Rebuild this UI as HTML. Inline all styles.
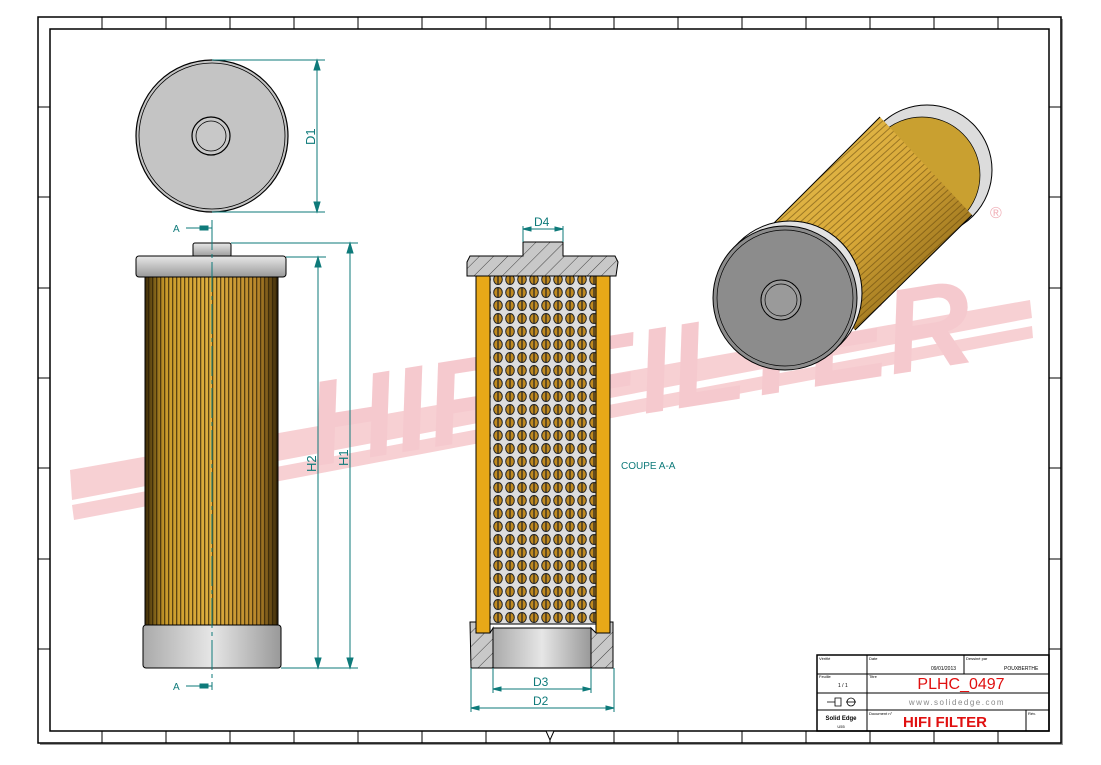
<!DOCTYPE html>
<html><head><meta charset="utf-8"><style>
body{margin:0;width:1101px;height:760px;background:#fff;overflow:hidden;font-family:"Liberation Sans",sans-serif}
</style></head><body>
<svg width="1101" height="760" viewBox="0 0 1101 760" xmlns="http://www.w3.org/2000/svg" font-family="Liberation Sans, sans-serif">
<defs>
<linearGradient id="pl" x1="0" x2="1" y1="0" y2="0">
<stop offset="0" stop-color="#3a2a08"/><stop offset=".15" stop-color="#c99a2a"/><stop offset=".5" stop-color="#e0b040"/><stop offset=".85" stop-color="#b8862a"/><stop offset="1" stop-color="#3a2a08"/></linearGradient>
<pattern id="pleat" width="4" height="10" patternUnits="userSpaceOnUse"><rect width="4" height="10" fill="none"/><rect x="0" width="1.3" height="10" fill="#2a1c05" opacity=".7"/></pattern>
<linearGradient id="cap" x1="0" x2="0" y1="0" y2="1"><stop offset="0" stop-color="#e8e8e8"/><stop offset="1" stop-color="#999"/></linearGradient>
<linearGradient id="capv" x1="0" x2="1"><stop offset="0" stop-color="#aaa"/><stop offset=".5" stop-color="#e6e6e6"/><stop offset="1" stop-color="#999"/></linearGradient>
<pattern id="mesh" width="12" height="13" patternUnits="userSpaceOnUse"><rect width="12" height="13" fill="#ddd"/><ellipse cx="6" cy="6.5" rx="4.3" ry="5" fill="#c08a20" stroke="#222" stroke-width="1"/><line x1="6" y1="2" x2="6" y2="11" stroke="#222" stroke-width="1.2"/></pattern>
<pattern id="hatch" width="10" height="10" patternUnits="userSpaceOnUse" patternTransform="rotate(45)"><rect width="10" height="10" fill="#c8c8c8"/><line x1="0" y1="0" x2="0" y2="10" stroke="#444" stroke-width="1"/></pattern>
<linearGradient id="body3" x1="0" y1="0" x2="1" y2="1"><stop offset="0" stop-color="#e8c050"/><stop offset=".5" stop-color="#d8a838"/><stop offset="1" stop-color="#6a4a08"/></linearGradient>
<pattern id="pl3" width="5" height="5" patternUnits="userSpaceOnUse" patternTransform="rotate(-42)"><rect width="5" height="1" fill="#5a3e08" opacity=".5"/></pattern>
</defs>
<!-- border -->
<rect x="40" y="19" width="1023" height="726" fill="#999"/>
<rect x="38" y="17" width="1023" height="726" fill="#fff" stroke="#000" stroke-width="1.5"/>
<rect x="50" y="29" width="999" height="702" fill="#fff" stroke="#000" stroke-width="1.5"/>
<g stroke="#000" stroke-width="1">
<line x1="102" y1="17" x2="102" y2="29"/><line x1="166" y1="17" x2="166" y2="29"/><line x1="230" y1="17" x2="230" y2="29"/><line x1="294" y1="17" x2="294" y2="29"/><line x1="358" y1="17" x2="358" y2="29"/><line x1="422" y1="17" x2="422" y2="29"/><line x1="486" y1="17" x2="486" y2="29"/><line x1="550" y1="17" x2="550" y2="29"/><line x1="614" y1="17" x2="614" y2="29"/><line x1="678" y1="17" x2="678" y2="29"/><line x1="742" y1="17" x2="742" y2="29"/><line x1="806" y1="17" x2="806" y2="29"/><line x1="870" y1="17" x2="870" y2="29"/><line x1="934" y1="17" x2="934" y2="29"/><line x1="998" y1="17" x2="998" y2="29"/>
<line x1="102" y1="731" x2="102" y2="743"/><line x1="166" y1="731" x2="166" y2="743"/><line x1="230" y1="731" x2="230" y2="743"/><line x1="294" y1="731" x2="294" y2="743"/><line x1="358" y1="731" x2="358" y2="743"/><line x1="422" y1="731" x2="422" y2="743"/><line x1="486" y1="731" x2="486" y2="743"/><line x1="550" y1="731" x2="550" y2="743"/><line x1="614" y1="731" x2="614" y2="743"/><line x1="678" y1="731" x2="678" y2="743"/><line x1="742" y1="731" x2="742" y2="743"/><line x1="806" y1="731" x2="806" y2="743"/><line x1="870" y1="731" x2="870" y2="743"/><line x1="934" y1="731" x2="934" y2="743"/><line x1="998" y1="731" x2="998" y2="743"/>
<line x1="38" y1="107" x2="50" y2="107"/><line x1="38" y1="197" x2="50" y2="197"/><line x1="38" y1="288" x2="50" y2="288"/><line x1="38" y1="378" x2="50" y2="378"/><line x1="38" y1="468" x2="50" y2="468"/><line x1="38" y1="559" x2="50" y2="559"/><line x1="38" y1="649" x2="50" y2="649"/>
<line x1="1049" y1="107" x2="1061" y2="107"/><line x1="1049" y1="197" x2="1061" y2="197"/><line x1="1049" y1="288" x2="1061" y2="288"/><line x1="1049" y1="378" x2="1061" y2="378"/><line x1="1049" y1="468" x2="1061" y2="468"/><line x1="1049" y1="559" x2="1061" y2="559"/><line x1="1049" y1="649" x2="1061" y2="649"/>
</g>
<!-- watermark -->
<g fill="#f6c8cc" opacity=".85">
<polygon points="70,470 1030,300 1032,318 72,500"/>
<polygon points="72,505 1032,326 1033,338 74,520"/>
<text x="300" y="420" font-size="120" font-weight="bold" font-style="italic" transform="rotate(-9 600 350)" fill="#f4c0c6">HIFI FILTER</text>
<text x="140" y="470" font-size="110" font-weight="bold" font-style="italic" transform="rotate(-9 600 350)" fill="#f4c0c6">A</text>
</g>
<!-- top view -->
<circle cx="212" cy="136" r="76" fill="#c4c4c4" stroke="#000" stroke-width="1.2"/>
<circle cx="212" cy="136" r="73" fill="none" stroke="#000" stroke-width=".8"/>
<circle cx="211" cy="136" r="19" fill="#c8c8c8" stroke="#000" stroke-width="1.2"/>
<circle cx="211" cy="136" r="15" fill="none" stroke="#000" stroke-width=".8"/>
<g stroke="#0e7a7a" fill="#0e7a7a" stroke-width="1">
<line x1="212" y1="60" x2="325" y2="60"/><line x1="212" y1="212" x2="325" y2="212"/><line x1="317" y1="60" x2="317" y2="212"/>
<polygon points="317,60 314,70 320,70"/><polygon points="317,212 314,202 320,202"/>
</g>
<text x="0" y="0" font-size="13" fill="#0e7a7a" transform="translate(315,145) rotate(-90)">D1</text>
<!-- front view -->
<rect x="145" y="277" width="133" height="349" fill="url(#pl)"/>
<rect x="145" y="277" width="133" height="349" fill="url(#pleat)"/>
<rect x="145" y="277" width="133" height="349" fill="none" stroke="#000"/>
<rect x="193" y="243" width="38" height="14" rx="2" fill="url(#cap)" stroke="#000"/>
<rect x="136" y="256" width="150" height="21" rx="3" fill="url(#cap)" stroke="#000"/>
<rect x="143" y="625" width="138" height="43" rx="3" fill="url(#capv)" stroke="#000"/>
<g stroke="#0e7a7a" fill="#0e7a7a" stroke-width="1">
<line x1="212" y1="220" x2="212" y2="690" stroke-dasharray="30,4,4,4"/>
<line x1="186" y1="228" x2="212" y2="228"/><rect x="200" y="226" width="8" height="4"/>
<line x1="186" y1="686" x2="212" y2="686"/><rect x="200" y="684" width="8" height="4"/>
<line x1="231" y1="243" x2="358" y2="243"/><line x1="286" y1="257" x2="326" y2="257"/><line x1="281" y1="668" x2="358" y2="668"/>
<line x1="318" y1="257" x2="318" y2="668"/><line x1="350" y1="243" x2="350" y2="668"/>
<polygon points="318,257 315,267 321,267"/><polygon points="318,668 315,658 321,658"/>
<polygon points="350,243 347,253 353,253"/><polygon points="350,668 347,658 353,658"/>
</g>
<text x="173" y="232" font-size="10" fill="#0e7a7a">A</text>
<text x="173" y="690" font-size="10" fill="#0e7a7a">A</text>
<text font-size="13" fill="#0e7a7a" transform="translate(316,472) rotate(-90)">H2</text>
<text font-size="13" fill="#0e7a7a" transform="translate(348,466) rotate(-90)">H1</text>
<!-- section view -->
<rect x="490" y="268" width="106" height="356" fill="url(#mesh)" stroke="#000"/>
<rect x="476" y="263" width="14" height="370" fill="#e8a818" stroke="#000"/>
<rect x="596" y="263" width="14" height="370" fill="#e8a818" stroke="#000"/>
<path d="M470,256 L523,256 L523,242 L563,242 L563,256 L615,256 L618,262 L616,276 L467,276 L467,262 Z" fill="url(#hatch)" stroke="#000"/>
<path d="M470,622 L476,622 L476,633 L490,633 L493,628 L493,668 L471,668 Z" fill="url(#hatch)" stroke="#000"/>
<path d="M613,622 L610,622 L610,633 L596,633 L591,628 L591,668 L613,668 Z" fill="url(#hatch)" stroke="#000"/>
<rect x="493" y="628" width="98" height="40" fill="url(#capv)" stroke="#000"/>
<g stroke="#0e7a7a" fill="#0e7a7a" stroke-width="1">
<line x1="523" y1="226" x2="523" y2="242"/><line x1="563" y1="226" x2="563" y2="242"/><line x1="523" y1="229" x2="563" y2="229"/>
<polygon points="523,229 531,227 531,231"/><polygon points="563,229 555,227 555,231"/>
<line x1="493" y1="668" x2="493" y2="693"/><line x1="591" y1="668" x2="591" y2="693"/><line x1="493" y1="689" x2="591" y2="689"/>
<polygon points="493,689 501,687 501,691"/><polygon points="591,689 583,687 583,691"/>
<line x1="471" y1="668" x2="471" y2="712"/><line x1="614" y1="668" x2="614" y2="712"/><line x1="471" y1="708" x2="614" y2="708"/>
<polygon points="471,708 479,706 479,710"/><polygon points="614,708 606,706 606,710"/>
</g>
<text x="534" y="226" font-size="12" fill="#0e7a7a">D4</text>
<text x="533" y="686" font-size="12" fill="#0e7a7a">D3</text>
<text x="533" y="705" font-size="12" fill="#0e7a7a">D2</text>
<text x="621" y="469" font-size="10" fill="#0e7a7a">COUPE A-A</text>
<!-- 3D view -->
<circle cx="927" cy="170" r="65" fill="#dcdcdc" stroke="#000"/>
<circle cx="922" cy="175" r="58" fill="#c9a030" stroke="#000" stroke-width=".7"/>
<polygon points="765,232 880,117 972,215 855,330" fill="url(#body3)"/>
<polygon points="765,232 880,117 972,215 855,330" fill="url(#pl3)"/>
<line x1="765" y1="232" x2="880" y2="117" stroke="#000"/>
<line x1="855" y1="330" x2="972" y2="215" stroke="#000"/>
<circle cx="790" cy="293" r="72" fill="#e2e2e2" stroke="#000"/>
<circle cx="785" cy="298" r="72" fill="#8c8c8c" stroke="#000"/>
<circle cx="785" cy="298" r="68" fill="none" stroke="#000" stroke-width=".7"/>
<circle cx="781" cy="300" r="20" fill="#9a9a9a" stroke="#000"/>
<circle cx="781" cy="300" r="16" fill="none" stroke="#000" stroke-width=".7"/>
<text x="990" y="218" font-size="16" fill="#f0b0b8">®</text>
<!-- title block -->
<g stroke="#000" fill="none">
<rect x="817" y="655" width="232" height="76" stroke-width="1.5"/>
<line x1="817" y1="674" x2="1049" y2="674"/><line x1="817" y1="693" x2="1049" y2="693"/><line x1="817" y1="710" x2="1049" y2="710"/>
<line x1="867" y1="655" x2="867" y2="731"/><line x1="964" y1="655" x2="964" y2="674"/><line x1="1026" y1="710" x2="1026" y2="731"/>
</g>
<g font-size="4" fill="#000"><text x="819" y="660">Vérifié</text><text x="869" y="660">Date</text><text x="966" y="660">Dessiné par</text><text x="819" y="678">Feuille</text><text x="869" y="678">Titre</text><text x="869" y="715">Document n°</text><text x="1028" y="715">Rév.</text></g>
<text x="931" y="670" font-size="5">09/01/2013</text>
<text x="1004" y="670" font-size="5">POUXBERTHE</text>
<text x="838" y="687" font-size="5">1 / 1</text>
<text x="961" y="689" font-size="16" fill="#e01010" text-anchor="middle">PLHC_0497</text>
<text x="957" y="705" font-size="8" fill="#888" text-anchor="middle" letter-spacing="1.5">www.solidedge.com</text>
<text x="945" y="727" font-size="15" font-weight="bold" fill="#e01010" text-anchor="middle">HIFI FILTER</text>
<text x="841" y="720" font-size="6" font-weight="bold" text-anchor="middle">Solid Edge</text>
<text x="841" y="728" font-size="4" text-anchor="middle">U55</text>
<g stroke="#000" fill="none" stroke-width=".8"><path d="M827,702 h8 v-4 h6 v8 h-6 v-4"/><circle cx="851" cy="702" r="4"/><line x1="846" y1="702" x2="856" y2="702"/></g>
<polygon points="546,731 554,731 550,740" fill="#fff" stroke="#000"/>
</svg>
</body></html>
